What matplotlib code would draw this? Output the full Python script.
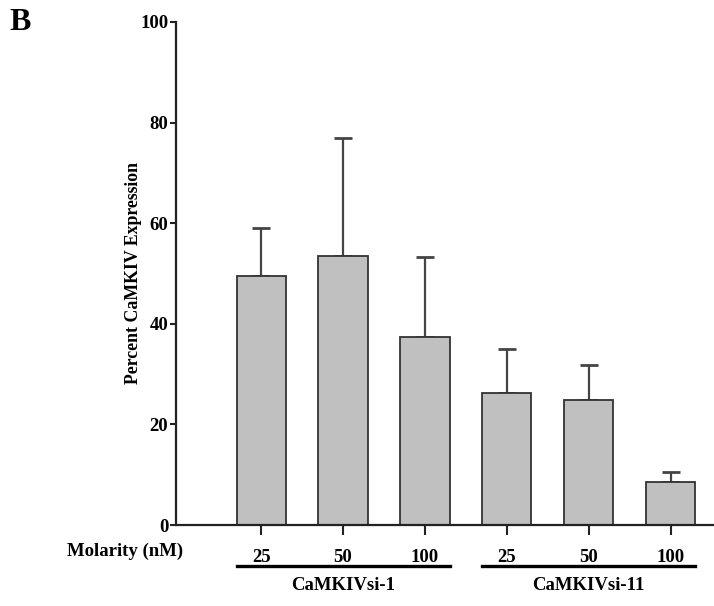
import matplotlib
matplotlib.use("Agg")
import matplotlib.pyplot as plt
import matplotlib.transforms as mtransforms
import numpy as np

# Data
molarity_labels = ["25", "50", "100", "25", "50", "100"]
groups = ["CaMKIVsi-1", "CaMKIVsi-11"]
means = [49.6, 53.5, 37.4, 26.2, 24.8, 8.5]
upper_err = [9.4, 23.4, 15.8, 8.7, 7.1, 2.1]
yticks = [0, 20, 40, 60, 80, 100]

plt.rcParams['font.family'] = ['Liberation Serif', 'DejaVu Serif']
plt.rcParams['font.weight'] = 'bold'

fig = plt.figure(figsize=(7.14, 6.06), dpi=100)
ax = fig.add_axes([176/714, 1-525/606, 1-176/714, (525-22)/606])

x = np.arange(len(means))
bar_w = 0.6
ax.bar(x, means, width=bar_w, color='#c0c0c0', edgecolor='#333333', linewidth=1.3, zorder=2)
ax.errorbar(x, means, yerr=[np.zeros(len(means)), upper_err], fmt='none',
            ecolor='#444444', elinewidth=1.6, capsize=6.5, capthick=2.0, zorder=1)

ax.set_xlim(-1.04, 5.53)
ax.set_ylim(0, 100)
ax.set_yticks(yticks)
ax.set_yticklabels([str(t) for t in yticks], fontsize=13.5, fontweight='bold')
ax.set_xticks(x)
ax.set_xticklabels(molarity_labels, fontsize=13.5, fontweight='bold')
ax.tick_params(axis='x', direction='out', length=7, width=1.5, pad=10, color='#222222')
ax.tick_params(axis='y', direction='out', length=4.5, width=1.5, pad=1, color='#222222')
for s in ['top', 'right']:
    ax.spines[s].set_visible(False)
for s in ['left', 'bottom']:
    ax.spines[s].set_linewidth(1.6)
    ax.spines[s].set_color('#222222')

ax.set_ylabel("Percent CaMKIV Expression", fontsize=12.8, fontweight='bold', labelpad=-1)

# Molarity label
fig.text(183/714, 1-551/606, "Molarity (nM)", ha='right', va='center',
         fontsize=13.5, fontweight='bold')

# Group underlines and labels
btrans = mtransforms.blended_transform_factory(ax.transData, fig.transFigure)
group_ranges = [(0, 2), (3, 5)]
for name, (a, b) in zip(groups, group_ranges):
    x0 = x[a] - bar_w/2
    x1 = x[b] + bar_w/2
    line = plt.Line2D([x0, x1], [1-566/606, 1-566/606], transform=btrans,
                      color='black', linewidth=2.4, clip_on=False)
    fig.add_artist(line)
    ax.text((x0+x1)/2, 1-585/606, name, transform=btrans, ha='center', va='center',
            fontsize=13.5, fontweight='bold')

fig.text(20/714, 1-22/606, "B", ha='center', va='center', fontsize=23, fontweight='bold')

fig.savefig("out.png", dpi=100)
